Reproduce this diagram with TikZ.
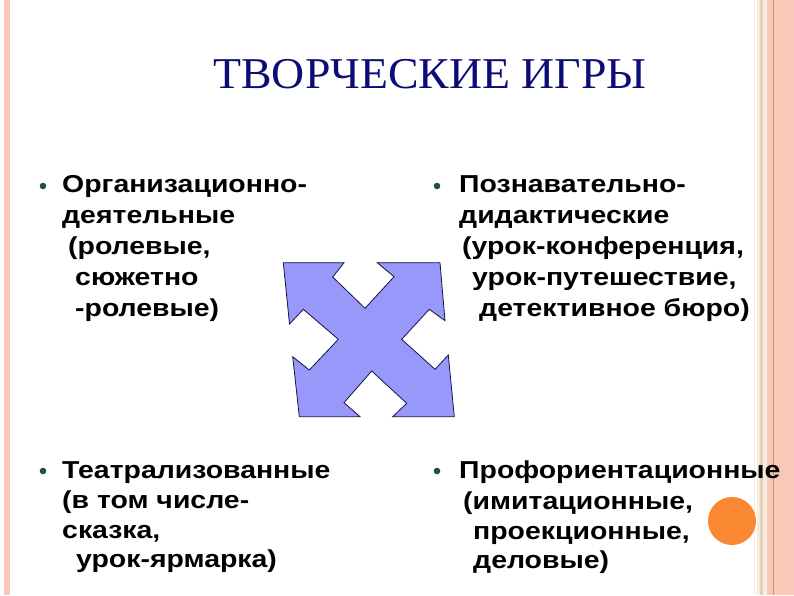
\documentclass[tikz,border=0pt]{standalone}
\usepackage{fontspec}
\setmainfont{Liberation Sans}[FakeStretch=1.16]
\newfontfamily\titlefont{Liberation Serif}[FakeStretch=1.04]
\definecolor{framepink}{RGB}{250,200,182}
\definecolor{framecream}{RGB}{246,236,220}
\definecolor{framebeige}{RGB}{228,208,184}
\definecolor{framebrown}{RGB}{200,140,120}
\definecolor{titleblue}{RGB}{12,12,120}
\definecolor{arrowblue}{RGB}{152,152,250}
\definecolor{arrowline}{RGB}{20,20,70}
\definecolor{dotgreen}{RGB}{28,82,70}
\definecolor{ballorange}{RGB}{250,136,50}

\begin{document}
\begin{tikzpicture}[x=1pt,y=-1pt,
  item/.style={anchor=base west,inner sep=0pt,font=\fontsize{24.5}{31}\selectfont\bfseries},
  dot/.style={fill=dotgreen}]
  \useasboundingbox (0,0) rectangle (794,595);
  \fill[white] (0,0) rectangle (794,595);
  % frame strips
  \fill[framepink]  (4,0) rectangle (9.5,595);
  \draw[framecream,line width=0.8pt] (754,0) -- (754,595);
  \fill[framecream] (757,0) rectangle (760,595);
  \fill[framebeige] (760,0) rectangle (763,595);
  \fill[framecream] (763,0) rectangle (767,595);
  \fill[framepink]  (767,0) rectangle (794,595);
  \draw[framebrown,line width=0.8pt] (773.5,0) -- (773.5,595);
  % title
  \node[anchor=base,inner sep=0pt,text=titleblue,font=\titlefont\fontsize{44}{44}\selectfont]
    (title) at (430,88) {ТВОРЧЕСКИЕ ИГРЫ};
  % four-way arrow
  \draw[arrowline,fill=arrowblue,line width=0.8pt,line join=miter]
    (283.3,262.7) -- (344,262.7) -- (332.7,277) -- (365,308.3) -- (394,276.7)
    -- (377.3,262.7) -- (440,262.7) -- (445,320.7) -- (429.3,309.3) -- (401.7,339.3)
    -- (435,369.3) -- (448.3,355) -- (454.3,416.7) -- (392.7,416.7) -- (406.7,403.3)
    -- (371.7,371) -- (344,402.7) -- (360,416.7) -- (299.3,416.7) -- (292.7,356.7)
    -- (309.3,370) -- (338.3,339.3) -- (303.3,309.3) -- (289.5,324) -- cycle;
  % bullets
  \fill[dot] (43,186) circle(3.3);
  \fill[dot] (437,186) circle(3.3);
  \fill[dot] (43,471) circle(3.3);
  \fill[dot] (437,471) circle(3.3);
  % top left
  \node[item] (org1) at (62,192) {Организационно-};
  \node[item] (org2) at (62,223) {деятельные};
  \node[item] (org3) at (68,254) {(ролевые,};
  \node[item] (org4) at (75,285) {сюжетно};
  \node[item] (org5) at (75,316) {-ролевые)};
  % top right
  \node[item] (pozn1) at (459,192) {Познавательно-};
  \node[item] (pozn2) at (459,223) {дидактические};
  \node[item] (pozn3) at (462,254) {(урок-конференция,};
  \node[item] (pozn4) at (472,285) {урок-путешествие,};
  \node[item] (pozn5) at (479,316) {детективное бюро)};
  % bottom left
  \node[item] (teat1) at (62,478) {Театрализованные};
  \node[item] (teat2) at (62,508) {(в том числе-};
  \node[item] (teat3) at (62,538) {сказка,};
  \node[item] (teat4) at (76,567) {урок-ярмарка)};
  % bottom right
  \node[item] (prof1) at (459,478) {Профориентационные};
  \node[item] (prof2) at (463,509) {(имитационные,};
  \node[item] (prof3) at (473,539) {проекционные,};
  \node[item] (prof4) at (473,568) {деловые)};
  % orange ball
  \fill[ballorange] (732,521) circle(24);
\end{tikzpicture}
\end{document}
